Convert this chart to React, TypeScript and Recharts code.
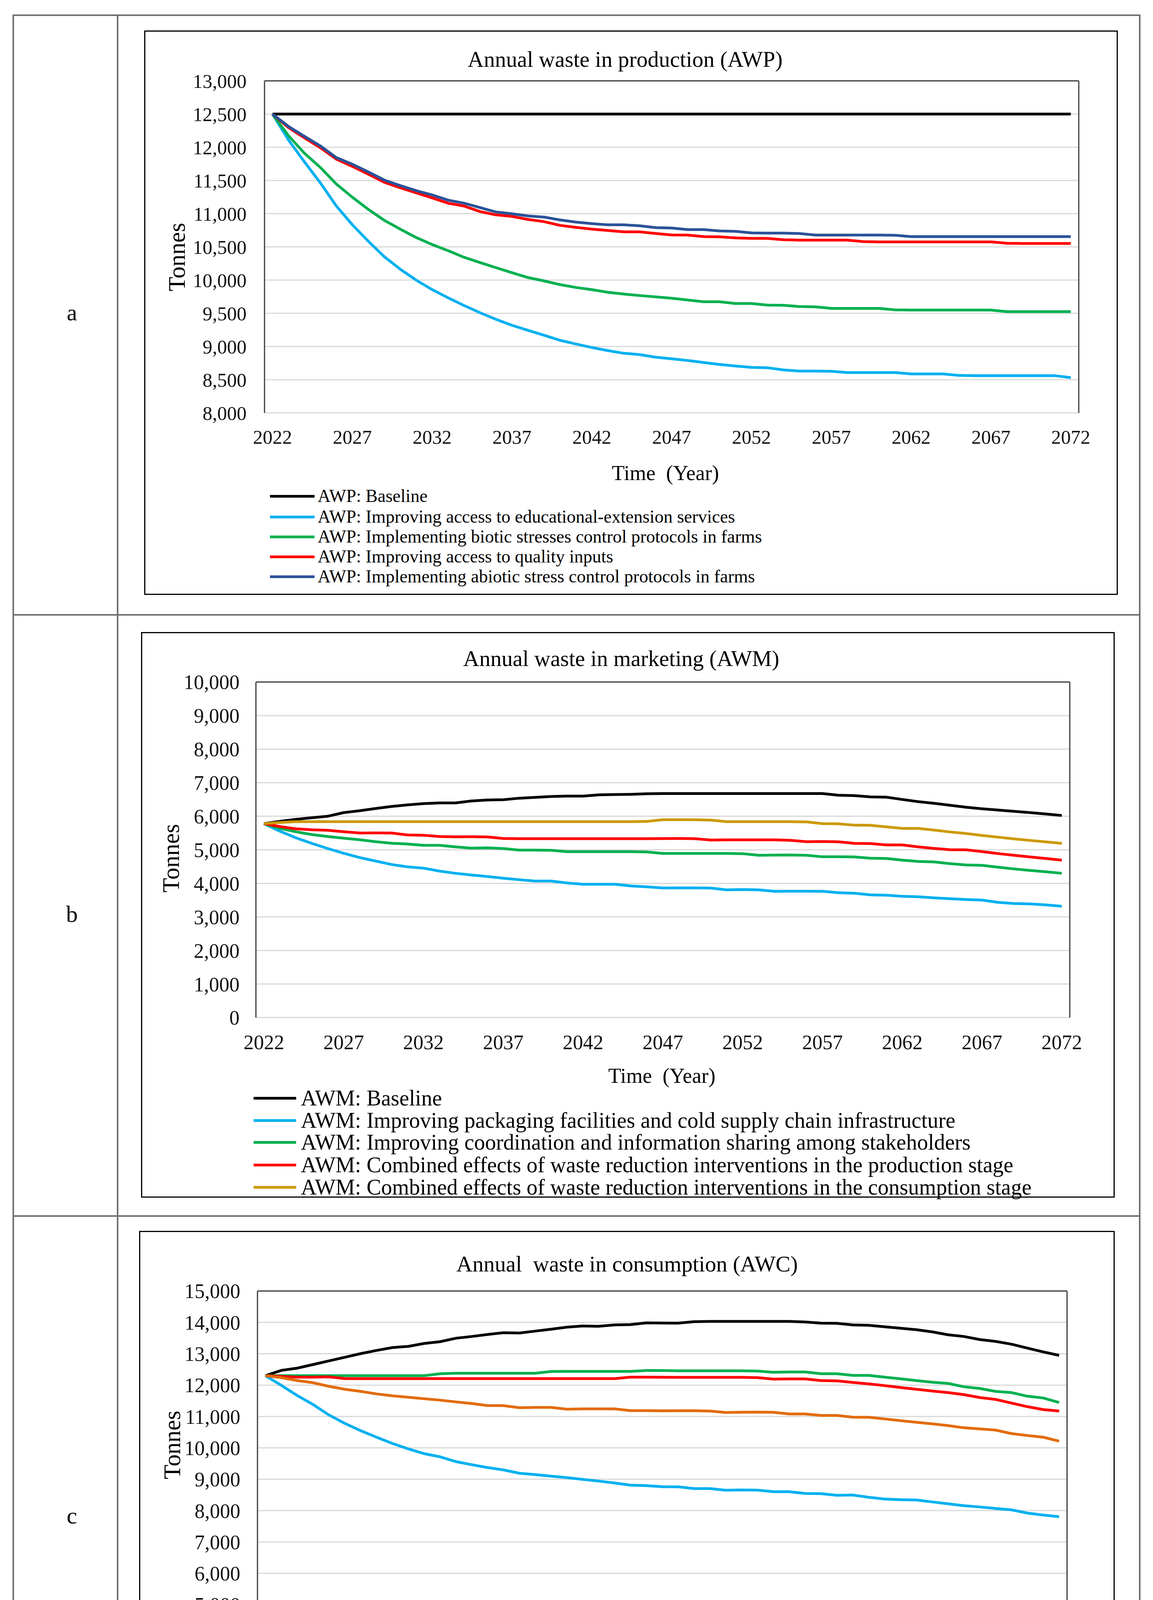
import { LineChart, Line, XAxis, YAxis, CartesianGrid, ReferenceLine } from "recharts";

const FONT = '"Liberation Serif", "Times New Roman", serif';

const years = [
  2022, 2023, 2024, 2025, 2026, 2027, 2028, 2029, 2030, 2031,
  2032, 2033, 2034, 2035, 2036, 2037, 2038, 2039, 2040, 2041,
  2042, 2043, 2044, 2045, 2046, 2047, 2048, 2049, 2050, 2051,
  2052, 2053, 2054, 2055, 2056, 2057, 2058, 2059, 2060, 2061,
  2062, 2063, 2064, 2065, 2066, 2067, 2068, 2069, 2070, 2071,
  2072,
];
const yearTicks = [2022, 2027, 2032, 2037, 2042, 2047, 2052, 2057, 2062, 2067, 2072];

// a: production
const awpTicks = [8000, 8500, 9000, 9500, 10000, 10500, 11000, 11500, 12000, 12500, 13000];
const awpBaseline = [
  12500, 12500, 12500, 12500, 12500, 12500, 12500, 12500, 12500, 12500,
  12500, 12500, 12500, 12500, 12500, 12500, 12500, 12500, 12500, 12500,
  12500, 12500, 12500, 12500, 12500, 12500, 12500, 12500, 12500, 12500,
  12500, 12500, 12500, 12500, 12500, 12500, 12500, 12500, 12500, 12500,
  12500, 12500, 12500, 12500, 12500, 12500, 12500, 12500, 12500, 12500,
  12500,
];
const awpExtension = [
  12500, 12110, 11780, 11463, 11115, 10833, 10585, 10353, 10164, 9999,
  9856, 9733, 9617, 9508, 9409, 9319, 9243, 9170, 9094, 9038,
  8985, 8938, 8898, 8878, 8838, 8815, 8789, 8759, 8729, 8706,
  8686, 8680, 8647, 8630, 8630, 8627, 8607, 8607, 8607, 8607,
  8587, 8587, 8587, 8564, 8561, 8561, 8561, 8561, 8561, 8561,
  8531,
];
const awpBiotic = [
  12500, 12175, 11910, 11695, 11446, 11248, 11065, 10900, 10767, 10641,
  10535, 10442, 10343, 10264, 10187, 10111, 10038, 9988, 9932, 9889,
  9856, 9816, 9790, 9767, 9747, 9727, 9700, 9674, 9674, 9647,
  9647, 9624, 9621, 9601, 9597, 9574, 9574, 9574, 9574, 9551,
  9548, 9548, 9548, 9548, 9548, 9548, 9525, 9525, 9525, 9525,
  9525,
];
const awpInputs = [
  12500, 12298, 12142, 11993, 11821, 11712, 11595, 11473, 11390, 11314,
  11238, 11158, 11115, 11032, 10982, 10959, 10913, 10880, 10824, 10794,
  10767, 10747, 10727, 10727, 10701, 10680, 10678, 10655, 10651, 10635,
  10628, 10628, 10608, 10602, 10602, 10602, 10602, 10579, 10575, 10575,
  10575, 10575, 10575, 10575, 10575, 10575, 10555, 10552, 10552, 10552,
  10552,
];
const awpAbiotic = [
  12500, 12314, 12165, 12020, 11844, 11745, 11629, 11506, 11423, 11347,
  11281, 11204, 11158, 11092, 11025, 10999, 10966, 10949, 10906, 10873,
  10850, 10833, 10833, 10817, 10790, 10784, 10760, 10760, 10740, 10734,
  10711, 10707, 10707, 10701, 10678, 10678, 10678, 10678, 10678, 10675,
  10655, 10655, 10655, 10655, 10655, 10655, 10655, 10655, 10655, 10655,
  10655,
];

// b: marketing
const awmTicks = [0, 1000, 2000, 3000, 4000, 5000, 6000, 7000, 8000, 9000, 10000];
const awmBaseline = [
  5780, 5846, 5908, 5954, 6000, 6108, 6165, 6231, 6292, 6338,
  6377, 6396, 6396, 6454, 6485, 6492, 6538, 6562, 6588, 6600,
  6600, 6638, 6646, 6654, 6670, 6677, 6677, 6677, 6677, 6677,
  6677, 6677, 6677, 6677, 6677, 6677, 6627, 6615, 6577, 6569,
  6500, 6435, 6385, 6327, 6269, 6223, 6185, 6146, 6108, 6069,
  6023,
];
const awmPackaging = [
  5780, 5556, 5358, 5192, 5038, 4896, 4769, 4665, 4562, 4492,
  4454, 4365, 4300, 4250, 4204, 4154, 4108, 4069, 4069, 4012,
  3973, 3973, 3973, 3923, 3896, 3862, 3865, 3865, 3858, 3808,
  3815, 3808, 3762, 3765, 3765, 3762, 3723, 3704, 3658, 3646,
  3615, 3600, 3569, 3542, 3519, 3500, 3435, 3400, 3388, 3358,
  3319,
];
const awmCoordination = [
  5780, 5640, 5538, 5454, 5396, 5346, 5300, 5242, 5196, 5173,
  5135, 5135, 5088, 5050, 5058, 5038, 4992, 4992, 4985, 4946,
  4946, 4946, 4946, 4946, 4935, 4892, 4892, 4892, 4892, 4892,
  4885, 4838, 4842, 4846, 4838, 4792, 4792, 4788, 4750, 4742,
  4692, 4654, 4638, 4588, 4550, 4538, 4481, 4431, 4385, 4346,
  4300,
];
const awmProduction = [
  5780, 5692, 5627, 5596, 5581, 5538, 5500, 5504, 5500, 5442,
  5435, 5396, 5388, 5390, 5385, 5338, 5331, 5331, 5331, 5331,
  5331, 5331, 5331, 5331, 5331, 5335, 5338, 5331, 5292, 5296,
  5296, 5296, 5296, 5281, 5242, 5246, 5238, 5192, 5185, 5146,
  5146, 5088, 5042, 5004, 5000, 4946, 4888, 4838, 4788, 4742,
  4692,
];
const awmConsumption = [
  5780, 5815, 5838, 5838, 5838, 5838, 5838, 5838, 5838, 5838,
  5838, 5838, 5838, 5838, 5838, 5838, 5838, 5838, 5838, 5838,
  5838, 5838, 5838, 5838, 5846, 5896, 5896, 5896, 5885, 5838,
  5838, 5838, 5838, 5838, 5831, 5781, 5773, 5735, 5731, 5685,
  5638, 5638, 5588, 5531, 5485, 5427, 5377, 5327, 5281, 5235,
  5192,
];

// c: consumption
const acwTicks = [5000, 6000, 7000, 8000, 9000, 10000, 11000, 12000, 13000, 14000, 15000];
const acwBase = [
  12300, 12471, 12540, 12656, 12772, 12888, 13004, 13106, 13198, 13235,
  13328, 13384, 13495, 13551, 13615, 13671, 13662, 13722, 13782, 13847,
  13884, 13875, 13921, 13930, 13986, 13980, 13977, 14023, 14032, 14032,
  14032, 14032, 14032, 14032, 14014, 13977, 13968, 13921, 13907, 13861,
  13815, 13768, 13699, 13606, 13551, 13453, 13393, 13305, 13180, 13059,
  12948,
];
const acwShopping = [
  12300, 11994, 11669, 11382, 11048, 10779, 10548, 10339, 10140, 9968,
  9816, 9714, 9561, 9463, 9371, 9297, 9190, 9148, 9097, 9051,
  8995, 8940, 8879, 8810, 8796, 8760, 8759, 8703, 8703, 8648,
  8657, 8652, 8601, 8601, 8546, 8541, 8486, 8495, 8425, 8370,
  8347, 8337, 8277, 8217, 8156, 8115, 8068, 8022, 7920, 7859,
  7804,
];
const acwPreparation = [
  12300, 12300, 12300, 12300, 12300, 12300, 12300, 12300, 12300, 12300,
  12300, 12364, 12378, 12378, 12378, 12378, 12378, 12378, 12434, 12438,
  12438, 12438, 12438, 12438, 12465, 12465, 12457, 12457, 12457, 12457,
  12457, 12448, 12411, 12420, 12420, 12364, 12364, 12309, 12309, 12253,
  12202, 12146, 12091, 12054, 11947, 11892, 11799, 11762, 11646, 11590,
  11447,
];
const acwProduction = [
  12300, 12276, 12253, 12253, 12262, 12207, 12207, 12207, 12207, 12207,
  12207, 12207, 12207, 12207, 12207, 12207, 12207, 12207, 12207, 12207,
  12207, 12207, 12207, 12253, 12255, 12250, 12248, 12248, 12248, 12248,
  12248, 12239, 12193, 12197, 12197, 12146, 12137, 12086, 12040, 11985,
  11924, 11869, 11813, 11762, 11697, 11604, 11544, 11428, 11313, 11220,
  11173,
];
const acwMarketing = [
  12300, 12239, 12146, 12077, 11961, 11868, 11799, 11720, 11660, 11614,
  11567, 11521, 11465, 11414, 11349, 11345, 11280, 11289, 11289, 11234,
  11243, 11243, 11243, 11187, 11187, 11180, 11183, 11183, 11173, 11127,
  11136, 11141, 11132, 11081, 11081, 11034, 11034, 10979, 10974, 10923,
  10867, 10817, 10765, 10710, 10640, 10603, 10566, 10455, 10394, 10339,
  10213,
];

type Series = { key: string; name: string; color: string; values: number[] };

type PanelCfg = {
  letter: string;
  letterY: number;
  box: { left: number; top: number; width: number; height: number };
  plot: { left: number; top: number; right: number; bottom: number };
  yTicks: number[];
  series: Series[];
  title: string;
  titlePos: [number, number];
  yLabelPos: [number, number];
  xLabelPos: [number, number];
  legend: { lineLeft: number; lineWidth: number; textLeft: number; rows: number[]; fontSize: number };
  tickFont: number;
  yTickGap: number;
  xTickGap: number;
};

const panels: PanelCfg[] = [
  {
    letter: "a",
    letterY: 800,
    box: { left: 369, top: 78, width: 2492, height: 1445 },
    plot: { left: 308, top: 129, right: 100, bottom: 466 },
    yTicks: awpTicks,
    series: [
      { key: "base", name: "AWP: Baseline", color: "#000000", values: awpBaseline },
      { key: "ext", name: "AWP: Improving access to educational-extension services", color: "#00b0f0", values: awpExtension },
      { key: "bio", name: "AWP: Implementing biotic stresses control protocols in farms", color: "#00b050", values: awpBiotic },
      { key: "inp", name: "AWP: Improving access to quality inputs", color: "#ff0000", values: awpInputs },
      { key: "abio", name: "AWP: Implementing abiotic stress control protocols in farms", color: "#2a5298", values: awpAbiotic },
    ],
    title: "Annual waste in production (AWP)",
    titlePos: [1231, 73],
    yLabelPos: [83, 580],
    xLabelPos: [1334, 1133],
    legend: { lineLeft: 322, lineWidth: 114, textLeft: 444, rows: [1192, 1245, 1296, 1347, 1398], fontSize: 46 },
    tickFont: 50,
    yTickGap: 46,
    xTickGap: 43,
  },
  {
    letter: "b",
    letterY: 2340,
    box: { left: 361, top: 1618, width: 2492, height: 1448 },
    plot: { left: 294, top: 128, right: 115, bottom: 461 },
    yTicks: awmTicks,
    series: [
      { key: "base", name: "AWM: Baseline", color: "#000000", values: awmBaseline },
      { key: "pack", name: "AWM: Improving packaging facilities and cold supply chain infrastructure", color: "#00b0f0", values: awmPackaging },
      { key: "coord", name: "AWM: Improving coordination and information sharing among stakeholders", color: "#00b050", values: awmCoordination },
      { key: "prod", name: "AWM: Combined effects of waste reduction interventions in the production stage", color: "#ff0000", values: awmProduction },
      { key: "cons", name: "AWM: Combined effects of waste reduction interventions in the consumption stage", color: "#cc9a06", values: awmConsumption },
    ],
    title: "Annual waste in marketing (AWM)",
    titlePos: [1229, 67],
    yLabelPos: [76, 579],
    xLabelPos: [1333, 1136],
    legend: { lineLeft: 288, lineWidth: 109, textLeft: 409, rows: [1193, 1250, 1306, 1364, 1421], fontSize: 56 },
    tickFont: 52,
    yTickGap: 42,
    xTickGap: 44,
  },
  {
    letter: "c",
    letterY: 3880,
    box: { left: 356, top: 3151, width: 2497, height: 1449 },
    plot: { left: 303, top: 154, right: 122, bottom: 492 },
    yTicks: acwTicks,
    series: [
      { key: "base", name: "ACW: Base run", color: "#000000", values: acwBase },
      { key: "shop", name: "ACW: Improving food shopping planning", color: "#00b0f0", values: acwShopping },
      { key: "prep", name: "ACW: Food preparation based on household needs", color: "#00b050", values: acwPreparation },
      { key: "prod", name: "ACW: Combined effects of waste reduction interventions in the production stage", color: "#ff0000", values: acwProduction },
      { key: "mkt", name: "ACW: Combined effects of waste reduction interventions in the marketing stage", color: "#e26b0a", values: acwMarketing },
    ],
    title: "Annual  waste in consumption (AWC)",
    titlePos: [1249, 84],
    yLabelPos: [84, 548],
    xLabelPos: [1334, 1094],
    legend: { lineLeft: 250, lineWidth: 109, textLeft: 369, rows: [1160, 1220, 1277, 1335, 1394], fontSize: 59 },
    tickFont: 52,
    yTickGap: 44,
    xTickGap: 39,
  },
];

const fmt = (v: number) => v.toLocaleString("en-US");

const centered = (x: number, y: number, size: number, extra: React.CSSProperties = {}): React.CSSProperties => ({
  position: "absolute",
  left: x,
  top: y,
  transform: "translate(-50%, -50%)",
  fontSize: size,
  lineHeight: 1,
  whiteSpace: "pre",
  color: "#000",
  ...extra,
});

function Panel({ cfg }: { cfg: PanelCfg }) {
  const { box, plot } = cfg;
  const rows = years.map((year, i) => {
    const r: Record<string, number> = { year };
    cfg.series.forEach((s) => {
      r[s.key] = s.values[i];
    });
    return r;
  });
  const yMin = cfg.yTicks[0];
  const yMax = cfg.yTicks[cfg.yTicks.length - 1];
  const tick = { fontSize: cfg.tickFont, fill: "#111", fontFamily: FONT };

  return (
    <>
      <div style={centered(184, cfg.letterY, 60)}>{cfg.letter}</div>
      <div style={{ position: "absolute", left: box.left, top: box.top, width: box.width, height: box.height }}>
        <LineChart
          width={box.width}
          height={box.height}
          data={rows}
          margin={{ top: plot.top, right: plot.right, bottom: 0, left: 0 }}
        >
          <CartesianGrid vertical={false} stroke="#d9d9d9" strokeWidth={3} />
          <XAxis
            dataKey="year"
            type="number"
            domain={[2021.5, 2072.5]}
            ticks={yearTicks}
            interval={0}
            height={plot.bottom}
            axisLine={false}
            tickLine={false}
            tickSize={0}
            tickMargin={cfg.xTickGap}
            tick={tick}
          />
          <YAxis
            type="number"
            domain={[yMin, yMax]}
            ticks={cfg.yTicks}
            interval={0}
            width={plot.left}
            axisLine={{ stroke: "#3a3a3a", strokeWidth: 3 }}
            tickLine={false}
            tickSize={0}
            tickMargin={cfg.yTickGap}
            tickFormatter={fmt}
            tick={tick}
          />
          <ReferenceLine y={yMax} stroke="#3a3a3a" strokeWidth={3} />
          <ReferenceLine x={2072.5} stroke="#3a3a3a" strokeWidth={3} />
          {cfg.series.map((s) => (
            <Line
              key={s.key}
              dataKey={s.key}
              type="linear"
              stroke={s.color}
              strokeWidth={7}
              dot={false}
              isAnimationActive={false}
            />
          ))}
        </LineChart>
        <div
          style={{
            position: "absolute",
            inset: 0,
            border: "3px solid #000",
            boxSizing: "border-box",
            pointerEvents: "none",
          }}
        />
        <div style={centered(cfg.titlePos[0], cfg.titlePos[1], 57)}>{cfg.title}</div>
        <div style={centered(cfg.yLabelPos[0], cfg.yLabelPos[1], 61, { transform: "translate(-50%, -50%) rotate(-90deg)" })}>
          Tonnes
        </div>
        <div style={centered(cfg.xLabelPos[0], cfg.xLabelPos[1], 54)}>Time  (Year)</div>
        {cfg.series.map((s, i) => (
          <div
            key={s.key}
            style={{
              position: "absolute",
              left: cfg.legend.lineLeft,
              top: cfg.legend.rows[i],
              transform: "translateY(-50%)",
              display: "flex",
              alignItems: "center",
              whiteSpace: "pre",
              fontSize: cfg.legend.fontSize,
              lineHeight: 1,
            }}
          >
            <span style={{ display: "inline-block", width: cfg.legend.lineWidth, height: 7, background: s.color }} />
            <span style={{ marginLeft: cfg.legend.textLeft - cfg.legend.lineLeft - cfg.legend.lineWidth }}>{s.name}</span>
          </div>
        ))}
      </div>
    </>
  );
}

export default function App() {
  const line = "#6f6f6f";
  return (
    <div
      style={{
        position: "relative",
        marginLeft: -8,
        marginTop: -8,
        width: 2951,
        height: 4691,
        background: "#fff",
        fontFamily: FONT,
      }}
    >
      <div
        style={{
          position: "absolute",
          left: 32,
          top: 37,
          width: 2887,
          height: 4611,
          border: `4px solid ${line}`,
          boxSizing: "border-box",
        }}
      />
      <div style={{ position: "absolute", left: 299, top: 37, width: 4, height: 4611, background: line }} />
      <div style={{ position: "absolute", left: 32, top: 1572, width: 2887, height: 4, background: line }} />
      <div style={{ position: "absolute", left: 32, top: 3111, width: 2887, height: 4, background: line }} />
      {panels.map((p) => (
        <Panel key={p.letter} cfg={p} />
      ))}
    </div>
  );
}
